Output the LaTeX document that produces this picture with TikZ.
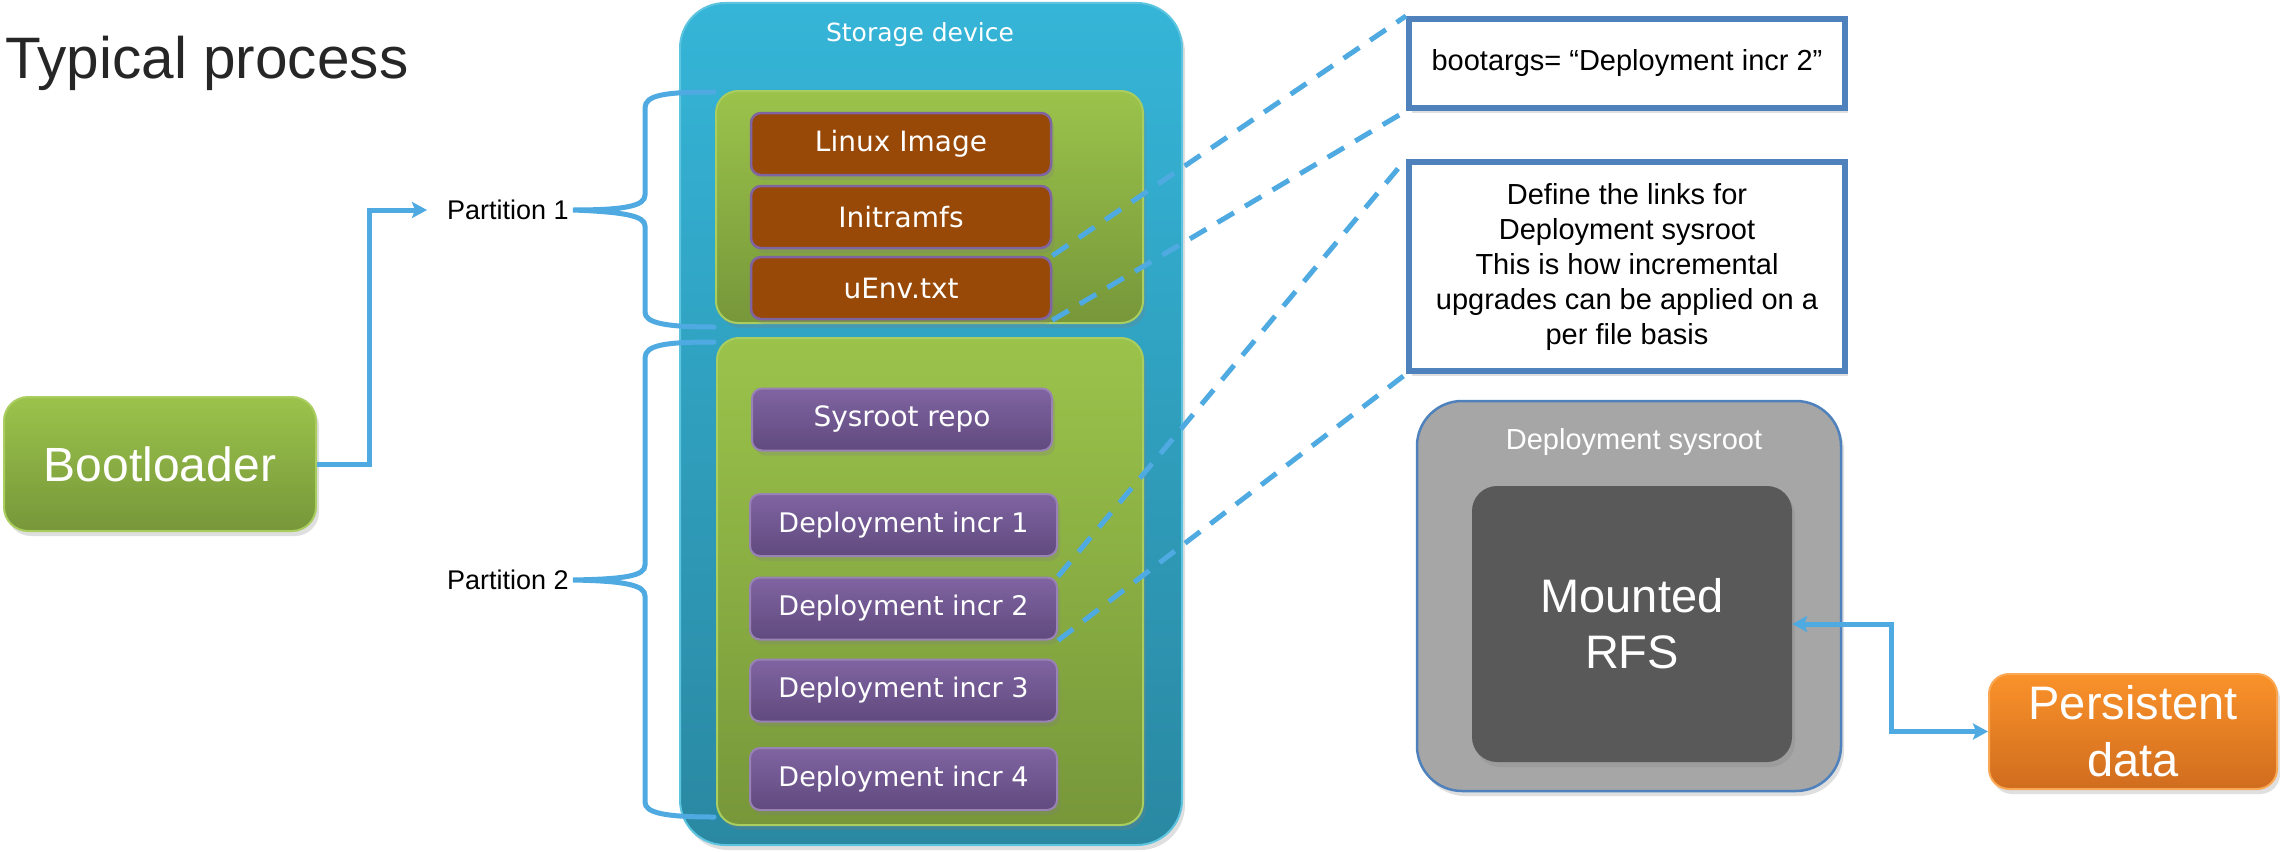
\documentclass[tikz,border=0pt]{standalone}
\usepackage{fontspec}
\setmainfont{Liberation Sans}
\newfontfamily\verd{DejaVu Sans}
\usetikzlibrary{arrows.meta,shadows}
\definecolor{lineblue}{RGB}{79,170,226}
\definecolor{boxblue}{RGB}{79,129,189}
\definecolor{stortop}{RGB}{53,181,216}
\definecolor{storbot}{RGB}{42,136,162}
\definecolor{grtop}{RGB}{155,195,75}
\definecolor{grbot}{RGB}{119,151,58}
\definecolor{grborder}{RGB}{170,205,95}
\definecolor{brownfill}{RGB}{152,72,7}
\definecolor{purpborder}{RGB}{128,100,162}
\definecolor{purptop}{RGB}{128,100,162}
\definecolor{purpbot}{RGB}{96,74,126}
\definecolor{grayfill}{RGB}{166,166,166}
\definecolor{darkfill}{RGB}{89,89,89}
\definecolor{orgtop}{RGB}{250,146,42}
\definecolor{orgbot}{RGB}{208,108,30}
\tikzset{
  shad/.style={drop shadow={opacity=0.25,shadow xshift=3pt,shadow yshift=-5pt}},
  conn/.style={draw=lineblue,line width=5pt},
  dashln/.style={draw=lineblue,line width=5pt,dash pattern=on 19pt off 13pt},
  tip/.style={-{Stealth[length=15pt,width=16pt,inset=3pt]}},
  greenbox/.style={rounded corners=22pt,top color=grtop,bottom color=grbot,draw=grborder,line width=2pt,shad,inner sep=0pt},
  brownbox/.style={rounded corners=10pt,fill=brownfill,draw=purpborder,line width=2.5pt,minimum width=300pt,minimum height=62pt,text=white,font=\verd\fontsize{28}{32}\selectfont,inner sep=0pt,shad},
  purpbox/.style={rounded corners=10pt,top color=purptop,bottom color=purpbot,draw=purptop!80!white,line width=2pt,minimum height=62pt,text=white,inner sep=0pt,shad},
  notebox/.style={draw=boxblue,line width=6pt,fill=white,inner sep=0pt,align=center,font=\fontsize{29}{35}\selectfont,shad},
  lbl/.style={font=\fontsize{27}{32}\selectfont,inner sep=0pt},
}
\begin{document}
\begin{tikzpicture}[x=1pt,y=-1pt]
\useasboundingbox (0,0) rectangle (2280,851);
% title
\node[anchor=base west,inner sep=0pt,text={rgb,255:red,38;green,38;blue,38},font=\fontsize{58.5}{66}\selectfont] (title) at (5,78) {Typical process};
% bootloader
\node[greenbox,rounded corners=24pt,draw=grborder,minimum width=312pt,minimum height=134pt,text=white,font=\fontsize{48}{56}\selectfont] (boot) at (160,464) {Bootloader};
% storage device
\node[rounded corners=45pt,top color=stortop,bottom color=storbot,draw=stortop!80!white,line width=2pt,minimum width=502pt,minimum height=842pt,inner sep=0pt,shad] (stor) at (931,424) {};
\node[text=white,font=\verd\fontsize{25}{28}\selectfont,inner sep=0pt] (storlbl) at (920,35) {Storage device};
% partitions
\node[greenbox,minimum width=427pt,minimum height=232pt] (p1) at (929.5,207) {};
\node[greenbox,minimum width=426pt,minimum height=487pt] (p2) at (930,581.5) {};
% partition 1 contents
\node[brownbox] (linux) at (901,144) {Linux Image};
\node[brownbox] (initrd) at (901,217) {Initramfs};
\node[brownbox] (uenv) at (901,288) {uEnv.txt};
% partition 2 contents
\node[purpbox,minimum width=300pt,font=\verd\fontsize{28}{32}\selectfont] (repo) at (902,419.5) {Sysroot repo};
\node[purpbox,minimum width=307pt,font=\verd\fontsize{27}{30}\selectfont] (inc1) at (903.5,525) {Deployment incr 1};
\node[purpbox,minimum width=307pt,font=\verd\fontsize{27}{30}\selectfont] (inc2) at (903.5,608.5) {Deployment incr 2};
\node[purpbox,minimum width=307pt,font=\verd\fontsize{27}{30}\selectfont] (inc3) at (903.5,690.5) {Deployment incr 3};
\node[purpbox,minimum width=307pt,font=\verd\fontsize{27}{30}\selectfont] (inc4) at (903.5,779) {Deployment incr 4};
% partition labels
\node[lbl] (p1lbl) at (508,210) {Partition 1};
\node[lbl] (p2lbl) at (508,580) {Partition 2};
% braces
\coordinate (b1top) at (714,92);
\coordinate (b1bot) at (714,327);
\coordinate (b2top) at (714,342);
\coordinate (b2bot) at (714,817);
\draw[conn,line cap=round] (b1top) .. controls (665,92) and (645,95) .. (645,108) -- (645,195)
  .. controls (645,206) and (625,210) .. ([xshift=4pt]p1lbl.east)
  .. controls (625,212) and (645,216) .. (645,226) -- (645,312)
  .. controls (645,323) and (665,327) .. (b1bot);
\draw[conn,line cap=round] (b2top) .. controls (665,342) and (645,345) .. (645,358) -- (645,565)
  .. controls (645,576) and (625,579) .. ([xshift=4pt]p2lbl.east)
  .. controls (625,581) and (645,585) .. (645,596) -- (645,802)
  .. controls (645,813) and (665,817) .. (b2bot);
% bootloader arrow
\draw[conn,tip] (boot.east) -- (369,464) |- ([xshift=-20pt]p1lbl.west);
% note boxes
\node[notebox,minimum width=436pt,minimum height=89pt] (bootargs) at (1627,63.5) {bootargs= “Deployment incr 2”};
\node[notebox,minimum width=436pt,minimum height=209pt] (define) at (1627,266.5) {Define the links for\\Deployment sysroot\\This is how incremental\\upgrades can be applied on a\\per file basis};
% dashed links
\draw[dashln] (uenv.north east) -- (bootargs.north west);
\draw[dashln] (uenv.south east) -- (bootargs.south west);
\draw[dashln] (inc2.north east) -- (define.north west);
\draw[dashln] (inc2.south east) -- (define.south west);
% deployment sysroot
\node[rounded corners=45pt,fill=grayfill,draw=boxblue,line width=2.5pt,minimum width=424pt,minimum height=390pt,inner sep=0pt,shad] (sysroot) at (1629,596) {};
\node[text=white,font=\fontsize{29}{34}\selectfont,inner sep=0pt] (syslbl) at (1634,442) {Deployment sysroot};
\node[rounded corners=25pt,fill=darkfill,minimum width=320pt,minimum height=276pt,inner sep=0pt,text=white,align=center,font=\fontsize{47}{56}\selectfont,shad] (rfs) at (1632,624) {Mounted\\RFS};
% persistent data
\node[rounded corners=20pt,top color=orgtop,bottom color=orgbot,draw=orgtop!80!white,line width=2pt,minimum width=288pt,minimum height=115pt,inner sep=0pt,text=white,align=center,font=\fontsize{47}{57}\selectfont,shad] (pers) at (2133,731.5) {Persistent\\data};
\draw[conn,{Stealth[length=15pt,width=16pt,inset=3pt]}-{Stealth[length=15pt,width=16pt,inset=3pt]}] (rfs.east) -- (1891,624) |- (pers.west);
\end{tikzpicture}
\end{document}
